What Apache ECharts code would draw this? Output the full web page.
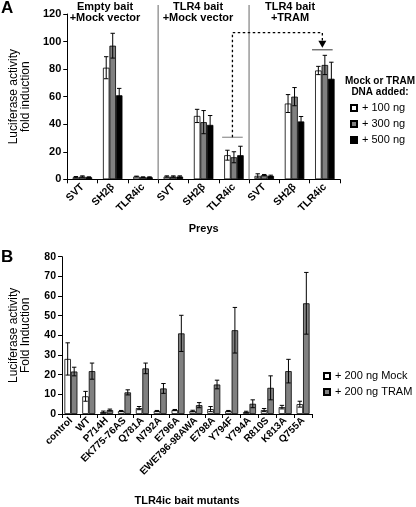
<!DOCTYPE html>
<html><head><meta charset="utf-8">
<script src="https://cdn.jsdelivr.net/npm/echarts@6/dist/echarts.min.js"></script>
<style>html,body{margin:0;padding:0;background:#fff}#c{width:416px;height:507px}</style>
</head><body><div id="c"></div>
<script>
// ---------- Panel A data ----------
const catsA = ['SVT','SH2β','TLR4ic','SVT','SH2β','TLR4ic','SVT','SH2β','TLR4ic'];
const seriesNamesA = ['+ 100 ng','+ 300 ng','+ 500 ng'];
const a100 = [1.5, 81, 2, 2, 46, 17.5, 2.5, 55, 79];
const a300 = [2, 97, 1.5, 2, 41.5, 16, 3, 60, 83];
const a500 = [1.5, 61, 1.5, 2, 39.5, 17.5, 2.5, 42, 73];
const e100 = [0.5, 8, 0.3, 0.5, 4.8, 3.6, 1.5, 6.5, 3];
const e300 = [0.5, 9, 0.3, 0.5, 8.4, 4, 0.5, 6.6, 7];
const e500 = [0.3, 5, 0.3, 0.5, 6.8, 6.5, 0.5, 3.6, 12];
const groupTitlesA = ['Empty bait\n+Mock vector','TLR4 bait\n+Mock vector','TLR4 bait\n+TRAM'];
const yTicksA = {min:0, max:120, interval:20};
// annotation (dashed arrow): from category 5 bracket to category 8 bracket
const annot = {fromCat:5, toCat:8, fromLevel:30.5, toLevel:94, topLevel:106.5};

// ---------- Panel B data ----------
const catsB = ['control','WT','P714H','EK775-76AS','Q781A','N792A','E796A','EWE796-98AWA','E798A','Y794F','Y794A','R810S','K813A','Q755A'];
const seriesNamesB = ['+ 200 ng Mock','+ 200 ng TRAM'];
const bMock = [28, 9, 1, 1.5, 3, 1.5, 2, 1.5, 2.5, 1.5, 1, 2, 3.5, 5];
const bTram = [21.6, 21.8, 2, 11, 23.2, 13, 41, 4.5, 15, 42.6, 5.2, 13.3, 21.8, 56.3];
const ebMock = [8.2, 2.5, 0.5, 0.3, 0.8, 0.3, 0.3, 0.4, 1.3, 0.3, 0.4, 0.8, 0.9, 1.5];
const ebTram = [2.2, 4.1, 0.5, 1.3, 2.7, 2.5, 9.2, 1.3, 2.2, 11.6, 2, 6.1, 6, 15.7];
const yTicksB = {min:0, max:80, interval:10};

const FONT = '"Liberation Sans", Arial, sans-serif';
const BW = 6.5;
const chart = echarts.init(document.getElementById('c'), null, {renderer:'canvas'});

function errData(vals, errs, k){ return vals.map((v,i)=>[i, v, errs[i], k]); }
const errA = [].concat(errData(a100,e100,0), errData(a300,e300,1), errData(a500,e500,2));
const errB = [].concat(errData(bMock,ebMock,0), errData(bTram,ebTram,1));

function errRender(nSeries){
  return function(params, api){
    const i = api.value(0), v = api.value(1), e = api.value(2), k = api.value(3);
    const off = (k - (nSeries-1)/2) * BW;
    const top = api.coord([i, v+e]), bot = api.coord([i, Math.max(0, v-e)]);
    const x = top[0] + off, cw = 2.2;
    const st = {stroke:'#000', lineWidth:1};
    return {type:'group', children:[
      {type:'line', shape:{x1:x,y1:top[1],x2:x,y2:bot[1]}, style:st},
      {type:'line', shape:{x1:x-cw,y1:top[1],x2:x+cw,y2:top[1]}, style:st},
      {type:'line', shape:{x1:x-cw,y1:bot[1],x2:x+cw,y2:bot[1]}, style:st}
    ]};
  };
}

const axisLbl = {fontFamily:FONT, fontWeight:'bold', color:'#000'};
const legendText = {fontFamily:FONT, fontSize:11, color:'#000', lineHeight:12};
const option = {
  animation:false,
  backgroundColor:'#fff',
  textStyle:{fontFamily:FONT},
  grid:[
    {left:57, top:14, width:283, height:165.3},
    {left:57, top:256.7, width:255, height:165}
  ],
  xAxis:[
    {type:'category', gridIndex:0, data:catsA,
     axisLine:{lineStyle:{color:'#000', width:1}},
     axisTick:{show:true, length:4, lineStyle:{color:'#000'}},
     axisLabel:Object.assign({rotate:45, fontSize:10.5, interval:0, margin:6}, axisLbl),
     name:'Preys', nameLocation:'middle', nameGap:44,
     nameTextStyle:{fontFamily:FONT, fontWeight:'bold', fontSize:11, color:'#000'}},
    {type:'category', gridIndex:1, data:catsB,
     axisLine:{lineStyle:{color:'#000', width:1}},
     axisTick:{show:true, length:4, lineStyle:{color:'#000'}},
     axisLabel:Object.assign({rotate:45, fontSize:10, interval:0, margin:5}, axisLbl),
     name:'TLR4ic bait mutants', nameLocation:'middle', nameGap:81,
     nameTextStyle:{fontFamily:FONT, fontWeight:'bold', fontSize:11, color:'#000'}}
  ],
  yAxis:[
    {type:'value', gridIndex:0, min:yTicksA.min, max:yTicksA.max, interval:yTicksA.interval,
     axisLine:{show:true, lineStyle:{color:'#000'}},
     axisTick:{show:true, length:4, lineStyle:{color:'#000'}},
     splitLine:{show:false},
     axisLabel:Object.assign({fontSize:11, margin:6}, axisLbl),
     name:'Luciferase activity\nfold induction', nameLocation:'middle', nameGap:29,
     nameTextStyle:{fontFamily:FONT, fontSize:12, color:'#000', lineHeight:12}},
    {type:'value', gridIndex:1, min:yTicksB.min, max:yTicksB.max, interval:yTicksB.interval,
     axisLine:{show:true, lineStyle:{color:'#000'}},
     axisTick:{show:true, length:4, lineStyle:{color:'#000'}},
     splitLine:{show:false},
     axisLabel:Object.assign({fontSize:10.5, margin:6}, axisLbl),
     name:'Luciferase activity\nFold Induction', nameLocation:'middle', nameGap:30,
     nameTextStyle:{fontFamily:FONT, fontSize:12, color:'#000', lineHeight:12}}
  ],
  legend:[
    {data:seriesNamesA, orient:'vertical', left:350, top:102, padding:0, itemWidth:6, itemHeight:6, itemGap:4,
     icon:'rect', textStyle:legendText, selectedMode:false},
    {data:seriesNamesB, orient:'vertical', left:323, top:370, padding:0, itemWidth:6, itemHeight:6, itemGap:4,
     icon:'rect', textStyle:legendText, selectedMode:false}
  ],
  series:[
    {name:seriesNamesA[0], type:'bar', xAxisIndex:0, yAxisIndex:0, data:a100, barWidth:BW, barGap:'0%',
     itemStyle:{color:'#fff', borderColor:'#000', borderWidth:0.8}},
    {name:seriesNamesA[1], type:'bar', xAxisIndex:0, yAxisIndex:0, data:a300, barWidth:BW, barGap:'0%',
     itemStyle:{color:'#808080', borderColor:'#000', borderWidth:0.8}},
    {name:seriesNamesA[2], type:'bar', xAxisIndex:0, yAxisIndex:0, data:a500, barWidth:BW, barGap:'0%',
     itemStyle:{color:'#000', borderColor:'#000', borderWidth:0.8}},
    {type:'custom', xAxisIndex:0, yAxisIndex:0, data:errA, renderItem:errRender(3), z:5, silent:true},
    // group separators
    {type:'custom', xAxisIndex:0, yAxisIndex:0, data:[[2],[5]], silent:true, z:1,
     renderItem:function(params, api){
       const c = api.coord([api.value(0), yTicksA.max]);
       const b = api.coord([api.value(0), 0]);
       const w = api.size([1,0])[0];
       const x = c[0] + w/2;
       return {type:'line', shape:{x1:x, y1:c[1]-9, x2:x, y2:b[1]}, style:{stroke:'#9a9a9a', lineWidth:1.5}};
     }},
    // dashed arrow annotation
    {type:'custom', xAxisIndex:0, yAxisIndex:0, silent:true, z:6,
     data:[[annot.fromCat, annot.toCat, annot.fromLevel, annot.toLevel, annot.topLevel]],
     renderItem:function(params, api){
       const f = api.coord([api.value(0), api.value(2)]);
       const t = api.coord([api.value(1), api.value(3)]);
       const topY = api.coord([api.value(0), api.value(4)])[1];
       const w = api.size([1,0])[0];
       const hb = w*0.34;
       const fx = f[0]-1.5, tx = t[0]-2.5;
       const dash = {stroke:'#000', lineWidth:1.3, lineDash:[2.5,2.5]};
       return {type:'group', children:[
         {type:'line', shape:{x1:fx-hb, y1:f[1], x2:fx+hb, y2:f[1]}, style:{stroke:'#999', lineWidth:1.3}},
         {type:'line', shape:{x1:tx-hb, y1:t[1], x2:tx+hb, y2:t[1]}, style:{stroke:'#333', lineWidth:1}},
         {type:'polyline', shape:{points:[[fx, f[1]],[fx, topY],[tx, topY],[tx, t[1]-9]]}, style:Object.assign({fill:null}, dash)},
         {type:'polygon', shape:{points:[[tx-4, t[1]-9],[tx+4, t[1]-9],[tx, t[1]-2]]}, style:{fill:'#000'}}
       ]};
     }},
    {name:seriesNamesB[0], type:'bar', xAxisIndex:1, yAxisIndex:1, data:bMock, barWidth:BW, barGap:'0%',
     itemStyle:{color:'#fff', borderColor:'#000', borderWidth:0.8}},
    {name:seriesNamesB[1], type:'bar', xAxisIndex:1, yAxisIndex:1, data:bTram, barWidth:BW, barGap:'0%',
     itemStyle:{color:'#808080', borderColor:'#000', borderWidth:0.8}},
    {type:'custom', xAxisIndex:1, yAxisIndex:1, data:errB, renderItem:errRender(2), z:5, silent:true}
  ],
  graphic:[
    {type:'text', left:1, top:0, style:{text:'A', font:'bold 17px '+FONT, fill:'#000'}},
    {type:'text', left:1, top:249, style:{text:'B', font:'bold 17px '+FONT, fill:'#000'}},
    {type:'text', x:105, y:1, style:{text:groupTitlesA[0], font:'bold 11px '+FONT, fill:'#000', align:'center', lineHeight:11}},
    {type:'text', x:198, y:1, style:{text:groupTitlesA[1], font:'bold 11px '+FONT, fill:'#000', align:'center', lineHeight:11}},
    {type:'text', x:290, y:1, style:{text:groupTitlesA[2], font:'bold 11px '+FONT, fill:'#000', align:'center', lineHeight:11}},
    {type:'text', x:380, y:76, style:{text:'Mock or TRAM\nDNA added:', font:'bold 10px '+FONT, fill:'#000', align:'center', lineHeight:11}}
  ]
};
chart.setOption(option);
</script></body></html>
